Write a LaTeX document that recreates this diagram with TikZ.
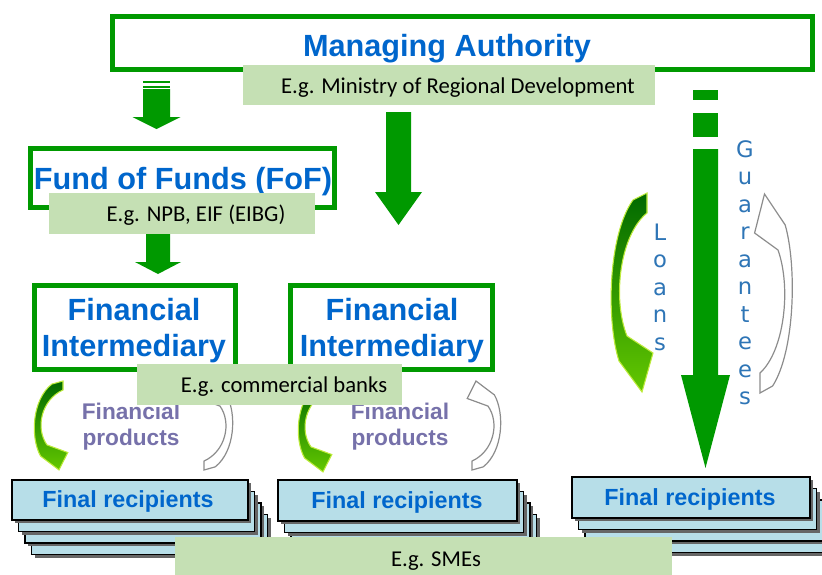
\documentclass[tikz,border=0pt]{standalone}
\usepackage{fontspec}
\setmainfont{Liberation Sans}
\newfontfamily\carl{Carlito}
\newfontfamily\dejavu{DejaVu Sans}
\definecolor{fgreen}{RGB}{0,153,0}
\definecolor{egfill}{RGB}{197,224,180}
\definecolor{tblue}{RGB}{0,102,204}
\definecolor{lblue}{RGB}{46,117,182}
\definecolor{frfill}{RGB}{183,222,232}
\definecolor{prodcol}{RGB}{118,113,170}
\definecolor{dgreen}{RGB}{0,105,0}
\definecolor{lgreen}{RGB}{100,200,0}
\definecolor{edgey}{RGB}{190,235,60}
\newcommand{\curvedarrowpath}{(0,0) -- (0,20) .. controls (-27,42) and (-35,105) .. (-20,143) -- (6,160) -- (-5,199) -- (-28,168) .. controls (-41,127) and (-39,42) .. (-14,7) -- cycle}
\newcommand{\blockarrow}[6]{% x, ytop, shaft half, y head, head half, y tip
  \fill[fgreen] ({#1-#3},#2) -- ({#1+#3},#2) -- ({#1+#3},#4) -- ({#1+#5},#4) -- (#1,#6) -- ({#1-#5},#4) -- ({#1-#3},#4) -- cycle;}
\newcommand{\frstack}[5]{%
  \foreach \i in {#5,...,0} {
    \fill[frshadow] ({#1+\i*6.5+3},{#2+\i*11.5+3}) rectangle ({#3+\i*6.5+3},{#4+\i*11.5+3});
    \draw[frbox] ({#1+\i*6.5},{#2+\i*11.5}) rectangle ({#3+\i*6.5},{#4+\i*11.5});
  }}
\begin{document}
\begin{tikzpicture}[x=0.75pt,y=-0.75pt,
  gbox/.style={draw=fgreen,line width=3.75pt},
  egbox/.style={fill=egfill},
  egtext/.style={font=\carl\fontsize{17}{20}\selectfont, text=black, inner sep=0, anchor=base},
  bigtext/.style={font=\bfseries\fontsize{23}{27}\selectfont, text=tblue, inner sep=0, anchor=base},
  frtext/.style={font=\bfseries\fontsize{17.5}{20}\selectfont, text=tblue, inner sep=0, anchor=base},
  prodtext/.style={font=\bfseries\fontsize{17}{20}\selectfont, text=prodcol, inner sep=0, anchor=base},
  lettext/.style={font=\dejavu\fontsize{17}{19}\selectfont, text=lblue, inner sep=0, anchor=base},
  frbox/.style={fill=frfill, draw=black, line width=1.1pt},
  frshadow/.style={fill=black!60},
  greenarrow/.style={top color=dgreen, bottom color=lgreen, draw=edgey, line width=0.8pt},
  grayarrow/.style={fill=white, draw=black!45, line width=0.9pt},
]
\useasboundingbox (0,0) rectangle (822,575);
\clip (0,0) rectangle (822,575);

% Managing Authority
\draw[gbox] (112.5,16.5) rectangle (812.5,69.5);
\node[bigtext] (ma) at (447,56) {Managing Authority};

% block arrows
\fill[fgreen] (143,81) rectangle (170,83);
\fill[fgreen] (143,86) rectangle (170,88);
\blockarrow{156.5}{89}{13.5}{117}{24}{129}
\blockarrow{158}{234}{12}{262}{23}{274}
\blockarrow{398.5}{112}{12.5}{192}{23.5}{225}
\fill[fgreen] (693,90) rectangle (718,100);
\fill[fgreen] (693,113) rectangle (718,137);
\blockarrow{705.5}{149}{12.5}{375}{24.5}{468}

% Ministry box
\fill[egbox] (243,65) rectangle (655,105);
\node[egtext] (ministry) at (458,93) {E.g. Ministry of Regional Development};

% Fund of Funds
\draw[gbox] (30.5,148.5) rectangle (334.5,207.5);
\node[bigtext] (fof) at (183,189) {Fund of Funds (FoF)};
\fill[egbox] (49,193) rectangle (315,234);
\node[egtext] (npb) at (196,221) {E.g. NPB, EIF (EIBG)};

% Financial intermediaries
\draw[gbox] (34.5,285.5) rectangle (235.5,369.5);
\node[bigtext] (fi1a) at (134,320) {Financial};
\node[bigtext] (fi1b) at (134,356) {Intermediary};
\draw[gbox] (290.5,285.5) rectangle (492.5,369.5);
\node[bigtext] (fi2a) at (392,320) {Financial};
\node[bigtext] (fi2b) at (392,356) {Intermediary};

% curved arrows, left and middle
\begin{scope}[shift={(63,381)}, xscale=0.8, yscale=0.447]
  \shadedraw[greenarrow] \curvedarrowpath;
\end{scope}
\begin{scope}[shift={(204,470)}, xscale=-0.8, yscale=-0.447]
  \filldraw[grayarrow] \curvedarrowpath;
\end{scope}
\begin{scope}[shift={(327,383)}, xscale=0.8, yscale=0.447]
  \shadedraw[greenarrow] \curvedarrowpath;
\end{scope}
\begin{scope}[shift={(472,470)}, xscale=-0.8, yscale=-0.447]
  \filldraw[grayarrow] \curvedarrowpath;
\end{scope}
% right curved arrows
\begin{scope}[shift={(647,193)}]
  \shadedraw[greenarrow] \curvedarrowpath;
\end{scope}
\begin{scope}[shift={(760,393)}, xscale=-0.9, yscale=-1]
  \filldraw[grayarrow] \curvedarrowpath;
\end{scope}

\node[prodtext] (prod1a) at (131,419) {Financial};
\node[prodtext] (prod1b) at (131,445) {products};
\node[prodtext] (prod2a) at (400,419) {Financial};
\node[prodtext] (prod2b) at (400,445) {products};

% commercial banks box
\fill[egbox] (137,364) rectangle (402,405);
\node[egtext] (banks) at (284,392) {E.g. commercial banks};

% Loans / Guarantees letters
\foreach \c [count=\k from 0] in {L,o,a,n,s}
  \node[lettext] (loan\k) at (660,{240+27.5*\k}) {\c};
\foreach \c [count=\k from 0] in {G,u,a,r,a,n,t,e,e,s}
  \node[lettext] (guar\k) at (745,{157+27.5*\k}) {\c};

% Final recipients
\frstack{12}{480}{248}{520}{3}
\node[frtext] (fr1) at (128,507) {Final recipients};
\frstack{278}{480}{517}{521}{3}
\node[frtext] (fr2) at (397,508) {Final recipients};
\frstack{572}{477}{810}{518}{3}
\node[frtext] (fr3) at (690,505) {Final recipients};

% SMEs box
\fill[egbox] (175,537) rectangle (672,580);
\node[egtext] (smes) at (436,566) {E.g. SMEs};
\end{tikzpicture}
\end{document}
